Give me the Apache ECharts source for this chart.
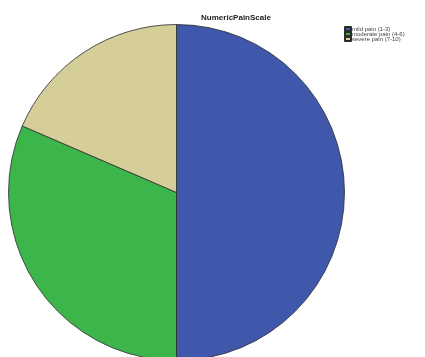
<!DOCTYPE html>
<html>
<head>
<meta charset="utf-8">
<script src="https://cdn.jsdelivr.net/npm/echarts@6/dist/echarts.min.js"></script>
<style>html,body{margin:0;padding:0;background:#fff;}#c{width:425px;height:357px;}</style>
</head>
<body>
<div id="c"></div>
<script>
const categories = ['mild pain (1-3)', 'moderate pain (4-6)', 'severe pain (7-10)'];
const counts = [27, 17, 10];
const colors = ['#3F58AC', '#3CB64A', '#D6CE98'];

const chart = echarts.init(document.getElementById('c'), null, {renderer: 'canvas'});
chart.setOption({
  animation: false,
  backgroundColor: '#ffffff',
  title: {
    text: 'NumericPainScale',
    left: 231, top: 9, textAlign: 'center',
    textStyle: {fontFamily: 'Liberation Sans, Arial, sans-serif', fontSize: 8, fontWeight: 'bold', color: '#222'}
  },
  legend: {
    orient: 'vertical', left: 344, top: 26,
    itemWidth: 6, itemHeight: 4, itemGap: -1,
    icon: 'rect',
    padding: 0,
    textStyle: {fontFamily: 'Liberation Sans, Arial, sans-serif', fontSize: 6, color: '#444', padding: [0,0,0,-4]},
    data: categories
  },
  series: [{
    type: 'pie',
    center: [176.5, 192.5],
    radius: 168,
    startAngle: 90,
    clockwise: true,
    label: {show: false},
    labelLine: {show: false},
    itemStyle: {borderColor: '#2a2a2a', borderWidth: 0.8},
    emphasis: {disabled: true},
    data: categories.map((n, i) => ({name: n, value: counts[i], itemStyle: {color: colors[i]}}))
  }]
});
</script>
</body>
</html>
